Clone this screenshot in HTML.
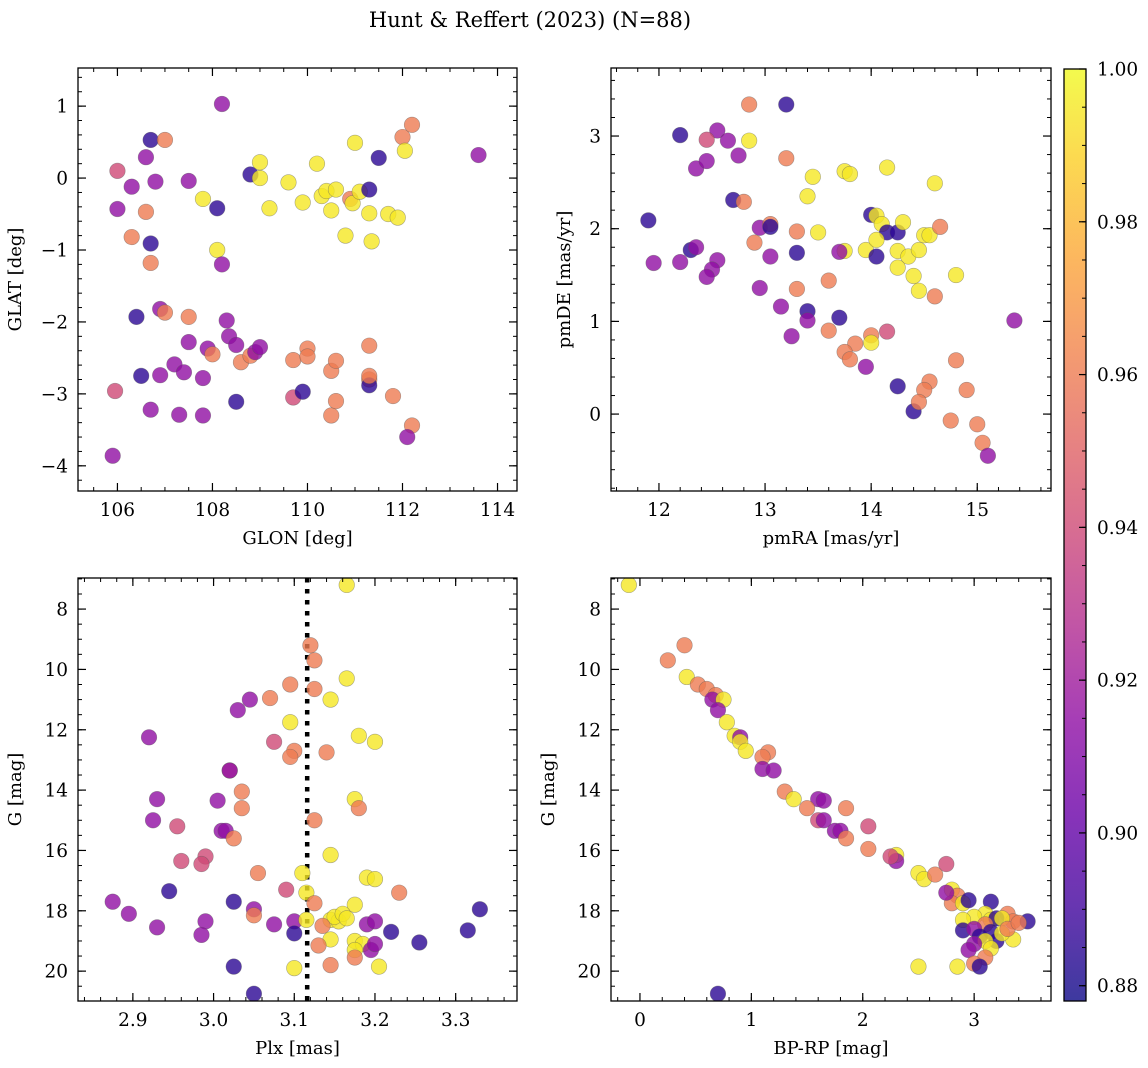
<!DOCTYPE html>
<html><head><meta charset="utf-8"><style>
html,body{margin:0;padding:0;background:#fff;}
svg{display:block;font-family:"DejaVu Serif","Liberation Serif",serif;}
</style></head><body>
<svg id="fig" width="1148" height="1068" xmlns="http://www.w3.org/2000/svg">
<text x="530" y="27" font-size="21" text-anchor="middle">Hunt &amp; Reffert (2023) (N=88)</text>
</svg>
<script>
// ---- Panel 1 data: GLON / GLAT ----
const glon=[113.6,108.2,106.7,107.0,106.6,106.0,106.3,106.8,107.5,106.0,106.6,108.1,107.8,108.8,109.0,109.0,109.2,109.6,109.9,110.2,110.3,110.4,110.6,110.5,110.9,110.95,111.0,111.1,111.3,111.3,111.35,111.5,110.8,111.7,111.9,112.0,112.05,112.2,106.3,106.7,106.7,108.1,108.2,106.4,106.9,107.0,107.5,107.5,108.3,108.35,107.9,108.0,108.5,108.6,108.8,108.9,109.0,109.7,110.0,110.0,110.5,110.6,111.3,106.5,106.9,107.2,107.4,107.8,105.95,106.7,107.3,107.8,108.5,109.7,109.9,110.5,110.6,111.3,111.3,111.3,111.8,112.2,112.1,105.9];
const glat=[0.32,1.03,0.53,0.53,0.29,0.1,-0.12,-0.05,-0.04,-0.43,-0.47,-0.42,-0.29,0.05,0.0,0.22,-0.42,-0.06,-0.34,0.2,-0.25,-0.18,-0.16,-0.45,-0.29,-0.35,0.49,-0.19,-0.16,-0.49,-0.88,0.28,-0.8,-0.5,-0.55,0.57,0.38,0.74,-0.82,-0.91,-1.18,-1.0,-1.2,-1.93,-1.82,-1.87,-1.93,-2.28,-1.98,-2.2,-2.37,-2.45,-2.32,-2.56,-2.47,-2.42,-2.35,-2.53,-2.37,-2.48,-2.68,-2.54,-2.33,-2.75,-2.74,-2.59,-2.7,-2.78,-2.96,-3.22,-3.29,-3.3,-3.11,-3.05,-2.97,-3.3,-3.1,-2.8,-2.88,-2.75,-3.03,-3.44,-3.6,-3.86];
const prob1=[.915,.915,.885,.96,.915,.94,.915,.915,.915,.915,.96,.885,.995,.885,.995,.995,.995,.995,.995,.995,.995,.995,.995,.995,.96,.995,.995,.995,.885,.995,.995,.885,.995,.995,.995,.96,.995,.96,.96,.885,.96,.995,.915,.885,.915,.96,.96,.915,.915,.915,.915,.96,.915,.96,.96,.915,.915,.96,.96,.96,.96,.96,.96,.885,.915,.915,.915,.915,.94,.915,.915,.915,.885,.94,.885,.96,.96,.96,.885,.96,.96,.96,.915,.915];
// ---- Panel 2 data: pmRA / pmDE ----
const pmra=[12.2,12.85,13.2,12.55,12.65,12.45,12.85,12.35,12.45,12.75,13.2,12.7,12.8,13.4,13.45,13.75,13.8,14.15,14.6,11.9,12.3,12.35,12.95,13.05,13.05,13.3,13.5,14.0,14.05,14.1,14.15,14.25,14.3,14.5,14.55,14.65,11.95,12.2,12.55,12.5,12.45,12.9,13.05,13.3,13.75,13.7,13.95,14.05,14.05,14.25,14.35,14.45,14.25,14.4,14.45,14.6,14.8,12.95,13.15,13.3,13.4,13.4,13.6,13.7,13.6,14.15,14.0,14.0,13.85,13.75,13.8,13.95,13.25,14.8,14.25,14.55,14.4,14.5,14.45,14.75,14.9,15.0,15.05,15.1,15.35];
const pmde=[3.01,3.34,3.34,3.06,2.95,2.96,2.95,2.65,2.73,2.79,2.76,2.31,2.29,2.35,2.56,2.62,2.59,2.66,2.49,2.09,1.77,1.8,2.01,2.05,2.02,1.97,1.96,2.15,2.14,2.05,1.96,1.96,2.07,1.93,1.93,2.02,1.63,1.64,1.66,1.56,1.48,1.85,1.7,1.74,1.76,1.75,1.77,1.88,1.7,1.76,1.7,1.77,1.58,1.49,1.33,1.27,1.5,1.36,1.16,1.35,1.11,1.01,1.44,1.04,0.9,0.89,0.85,0.77,0.76,0.67,0.59,0.51,0.84,0.58,0.3,0.35,0.03,0.26,0.13,-0.07,0.26,-0.11,-0.31,-0.45,1.01];
const prob2=[.885,.96,.885,.915,.915,.94,.995,.915,.915,.915,.96,.885,.96,.995,.995,.995,.995,.995,.995,.885,.885,.915,.915,.96,.885,.96,.995,.885,.995,.995,.885,.885,.995,.995,.995,.96,.915,.915,.915,.915,.915,.96,.915,.885,.995,.915,.995,.995,.885,.995,.995,.995,.995,.995,.995,.96,.995,.915,.915,.96,.885,.915,.96,.885,.96,.94,.96,.995,.96,.96,.96,.915,.915,.96,.885,.96,.885,.96,.96,.96,.96,.96,.96,.915,.915];
// ---- Panel 3 data: Plx / G ----
const plx=[3.165,3.12,3.125,3.165,3.125,3.095,3.07,3.045,3.145,3.03,3.095,3.075,3.1,3.095,3.14,3.18,3.2,2.92,3.02,3.02,3.035,3.005,2.93,3.035,3.175,3.18,3.125,2.925,2.955,3.01,3.015,3.025,3.145,2.96,2.99,2.985,3.055,3.11,3.19,3.2,3.09,3.115,3.23,2.945,3.025,3.125,3.175,2.875,2.895,3.05,3.05,3.1,3.115,3.145,3.155,3.15,3.16,3.165,3.19,3.2,3.1,3.075,2.99,2.93,2.985,3.135,3.145,3.13,3.175,3.185,3.175,3.195,3.2,3.175,3.22,3.255,3.315,3.33,3.145,3.205,3.1,3.025,3.05];
const gmag3=[7.2,9.2,9.7,10.3,10.65,10.5,10.95,11.0,11.0,11.35,11.75,12.4,12.7,12.9,12.75,12.2,12.4,12.25,13.35,13.35,14.05,14.35,14.3,14.6,14.3,14.6,15.0,15.0,15.2,15.35,15.35,15.6,16.15,16.35,16.2,16.45,16.75,16.75,16.9,16.95,17.3,17.4,17.4,17.35,17.7,17.75,17.8,17.7,18.1,17.95,18.15,18.35,18.3,18.3,18.35,18.2,18.1,18.25,18.45,18.35,18.75,18.45,18.35,18.55,18.8,18.5,18.95,19.15,19.0,19.1,19.3,19.3,19.1,19.55,18.7,19.05,18.65,17.95,19.8,19.85,19.9,19.85,20.75];
const prob3=[.995,.96,.96,.995,.96,.96,.96,.915,.995,.915,.995,.94,.96,.96,.96,.995,.995,.915,.94,.915,.96,.915,.915,.96,.995,.96,.96,.915,.94,.915,.915,.96,.995,.94,.94,.94,.96,.995,.995,.995,.94,.995,.96,.885,.885,.96,.995,.915,.915,.915,.96,.915,.995,.995,.995,.995,.995,.995,.915,.915,.885,.915,.915,.915,.915,.96,.995,.96,.995,.995,.995,.915,.915,.96,.885,.885,.885,.885,.96,.995,.995,.885,.885];
// ---- Panel 4 data: BP-RP / G ----
const bprp=[-0.1,0.25,0.4,0.42,0.52,0.6,0.68,0.65,0.75,0.7,0.78,0.85,0.9,0.9,0.95,1.15,1.1,1.1,1.2,1.3,1.38,1.6,1.65,1.5,1.85,1.6,1.65,1.75,1.8,1.85,2.05,2.05,2.3,2.3,2.25,2.5,2.55,2.65,2.75,2.8,2.85,2.8,2.9,2.75,2.95,3.15,3.3,3.35,3.48,3.1,3.0,3.15,2.9,3.2,3.25,3.35,3.1,2.9,3.0,3.05,3.15,3.2,3.25,3.1,3.15,3.0,2.95,3.1,3.0,3.05,2.85,2.5,0.7,3.3,3.4];
const gmag4=[7.2,9.7,9.2,10.25,10.5,10.65,10.85,11.0,11.0,11.35,11.75,12.2,12.25,12.4,12.7,12.75,12.9,13.3,13.35,14.05,14.3,14.3,14.35,14.6,14.6,15.0,15.0,15.35,15.35,15.6,15.2,15.95,16.15,16.35,16.2,16.75,16.95,16.8,16.45,17.3,17.5,17.75,17.75,17.4,17.65,17.7,18.1,18.35,18.35,18.1,18.2,18.3,18.3,18.25,18.25,18.95,18.45,18.65,18.6,18.85,18.7,19.0,18.75,19.0,19.25,19.1,19.3,19.55,19.75,19.85,19.85,19.85,20.75,18.6,18.4];
const prob4=[.995,.96,.96,.995,.96,.96,.96,.915,.995,.915,.995,.995,.915,.995,.995,.96,.96,.915,.915,.96,.995,.915,.915,.96,.96,.94,.915,.915,.915,.96,.94,.96,.995,.915,.94,.995,.995,.96,.94,.995,.96,.96,.995,.915,.885,.885,.96,.96,.885,.995,.995,.995,.995,.885,.995,.995,.96,.885,.915,.885,.885,.885,.995,.995,.995,.915,.915,.96,.96,.885,.995,.995,.885,.96,.96];
// ---- ticks ----
const ticks1x=[106,108,110,112,114], ticks1y=[1,0,-1,-2,-3,-4];
const ticks2x=[12,13,14,15], ticks2y=[3,2,1,0];
const ticks3x=[2.9,3.0,3.1,3.2,3.3], ticksG=[8,10,12,14,16,18,20];
const ticks4x=[0,1,2,3];
const cbTicks=[0.88,0.90,0.92,0.94,0.96,0.98,1.00];
const plxRef=[3.116];

const NS="http://www.w3.org/2000/svg";
const svg=document.getElementById('fig');
function mk(tag,attrs,parent){const e=document.createElementNS(NS,tag);for(const k in attrs)e.setAttribute(k,attrs[k]);(parent||svg).appendChild(e);return e;}
const stops=[[13,8,135],[65,4,157],[106,0,168],[143,13,164],[177,42,144],[204,71,120],[225,100,98],[242,132,75],[252,166,54],[252,206,37],[240,249,33]];
const vmin=0.878,vmax=1.0;
function plasma(t){t=Math.max(0,Math.min(1,t));const f=t*10,i=Math.min(9,Math.floor(f)),u=f-i;const a=stops[i],b=stops[i+1];return 'rgb('+a.map((v,k)=>Math.round(v+(b[k]-v)*u)).join(',')+')';}
function fmt(v,d){const s=v.toFixed(d);return v<0?'\u2212'+s.slice(1):s;}
const TF=18.5, LF=18;

function panel(o){
  const sx=v=>o.x0+(v-o.xmin)/(o.xmax-o.xmin)*(o.x1-o.x0);
  const sy=o.inv?(v=>o.y0+(v-o.ymin)/(o.ymax-o.ymin)*(o.y1-o.y0)):(v=>o.y1-(v-o.ymin)/(o.ymax-o.ymin)*(o.y1-o.y0));
  const g=mk('g',{});
  
  
  const clipId='c'+o.name;
  const cp=mk('clipPath',{id:clipId},g);mk('rect',{x:o.x0,y:o.y0,width:o.x1-o.x0,height:o.y1-o.y0},cp);
  const pts=mk('g',{'clip-path':'url(#'+clipId+')'},g);
  
  
  if(o.vline){o.vline.forEach(v=>{const l=mk('line',{x1:sx(v),x2:sx(v),y1:o.y0,y2:o.y1,stroke:'#000','stroke-width':4.5,'stroke-dasharray':'4.5,6.5'},pts);
    
    });}
  for(let i=0;i<o.xs.length;i++){
    const c=mk('circle',{cx:sx(o.xs[i]),cy:sy(o.ys[i]),r:7.8,fill:plasma((o.ps[i]-vmin)/(vmax-vmin)),'fill-opacity':0.8,stroke:'rgba(90,90,90,0.5)','stroke-width':0.6},pts);
    
    
  }
  mk('rect',{x:o.x0,y:o.y0,width:o.x1-o.x0,height:o.y1-o.y0,fill:'none',stroke:'#000','stroke-width':1.3},g);
  const mstep=o.xminor;for(let v=Math.ceil(o.xmin/mstep)*mstep;v<=o.xmax;v+=mstep){const x=sx(v);mk('line',{x1:x,x2:x,y1:o.y1,y2:o.y1-4,stroke:'#000','stroke-width':1},g);mk('line',{x1:x,x2:x,y1:o.y0,y2:o.y0+4,stroke:'#000','stroke-width':1},g);}
  const ystep=o.yminor;for(let v=Math.ceil(o.ymin/ystep)*ystep;v<=o.ymax;v+=ystep){const y=sy(v);mk('line',{x1:o.x0,x2:o.x0+4,y1:y,y2:y,stroke:'#000','stroke-width':1},g);mk('line',{x1:o.x1,x2:o.x1-4,y1:y,y2:y,stroke:'#000','stroke-width':1},g);}
  o.xt.forEach(v=>{const x=sx(v);mk('line',{x1:x,x2:x,y1:o.y1,y2:o.y1-8,stroke:'#000','stroke-width':1.2},g);mk('line',{x1:x,x2:x,y1:o.y0,y2:o.y0+8,stroke:'#000','stroke-width':1.2},g);
    const t=mk('text',{x:x,y:o.y1+25,'font-size':TF,'text-anchor':'middle'},g);t.textContent=fmt(v,o.xd);
    
    });
  o.yt.forEach(v=>{const y=sy(v);mk('line',{x1:o.x0,x2:o.x0+8,y1:y,y2:y,stroke:'#000','stroke-width':1.2},g);mk('line',{x1:o.x1,x2:o.x1-8,y1:y,y2:y,stroke:'#000','stroke-width':1.2},g);
    const t=mk('text',{x:o.x0-10,y:y+6.5,'font-size':TF,'text-anchor':'end'},g);t.textContent=fmt(v,0);
    
    });
  const xl=mk('text',{x:(o.x0+o.x1)/2,y:o.y1+53,'font-size':LF,'text-anchor':'middle'},g);xl.textContent=o.xlabel;
  
  
  const yx=o.x0-(o.ylx);const yc=(o.y0+o.y1)/2;
  const yl=mk('text',{x:yx,y:yc,'font-size':LF,'text-anchor':'middle',transform:'rotate(-90 '+yx+' '+yc+')'},g);yl.textContent=o.ylabel;
  
  
}
panel({name:'panel-glon-glat',x0:78,x1:517,y0:68,y1:491,xmin:105.17,xmax:114.41,ymin:-4.35,ymax:1.53,xs:glon,ys:glat,ps:prob1,xt:ticks1x,yt:ticks1y,xminor:0.5,yminor:0.2,xd:0,xlabel:'GLON [deg]',ylabel:'GLAT [deg]',ylx:57});
panel({name:'panel-pm',x0:611,x1:1051,y0:68,y1:491,xmin:11.548,xmax:15.695,ymin:-0.83,ymax:3.734,xs:pmra,ys:pmde,ps:prob2,xt:ticks2x,yt:ticks2y,xminor:0.2,yminor:0.2,xd:0,xlabel:'pmRA [mas/yr]',ylabel:'pmDE [mas/yr]',ylx:41});
panel({name:'panel-plx-g',x0:78,x1:517,y0:578,y1:1001,xmin:2.832,xmax:3.376,ymin:6.97,ymax:20.99,inv:true,xs:plx,ys:gmag3,ps:prob3,xt:ticks3x,yt:ticksG,xminor:0.02,yminor:0.5,xd:1,xlabel:'Plx [mas]',ylabel:'G [mag]',ylx:57,vline:plxRef});
panel({name:'panel-cmd',x0:611,x1:1051,y0:578,y1:1001,xmin:-0.26,xmax:3.69,ymin:6.97,ymax:20.99,inv:true,xs:bprp,ys:gmag4,ps:prob4,xt:ticks4x,yt:ticksG,xminor:0.2,yminor:0.5,xd:0,xlabel:'BP-RP [mag]',ylabel:'G [mag]',ylx:57});

// colorbar
const cb=mk('g',{});


const defs=mk('defs',{},cb);const lg=mk('linearGradient',{id:'cbg',x1:0,y1:1,x2:0,y2:0},defs);
stops.forEach((s,i)=>mk('stop',{offset:(i/10),'stop-color':'rgb('+s.join(',')+')'},lg));
const cx0=1064,cx1=1086,cy0=69,cy1=1001;
const cyS=v=>cy1-(v-vmin)/(vmax-vmin)*(cy1-cy0);
mk('rect',{x:cx0,y:cy0,width:cx1-cx0,height:cy1-cy0,fill:'url(#cbg)','fill-opacity':0.8},cb);
mk('rect',{x:cx0,y:cy0,width:cx1-cx0,height:cy1-cy0,fill:'none',stroke:'#000','stroke-width':1.3},cb);
for(let v=0.88;v<=1.0001;v+=0.005){mk('line',{x1:cx1,x2:cx1-4,y1:cyS(v),y2:cyS(v),stroke:'#000','stroke-width':1},cb);}
cbTicks.forEach(v=>{const y=cyS(v);mk('line',{x1:cx1,x2:cx1-7,y1:y,y2:y,stroke:'#000','stroke-width':1.2},cb);
  const t=mk('text',{x:cx1+11,y:y+6.5,'font-size':TF},cb);t.textContent=v.toFixed(2);
  
  });
</script>
</body></html>
